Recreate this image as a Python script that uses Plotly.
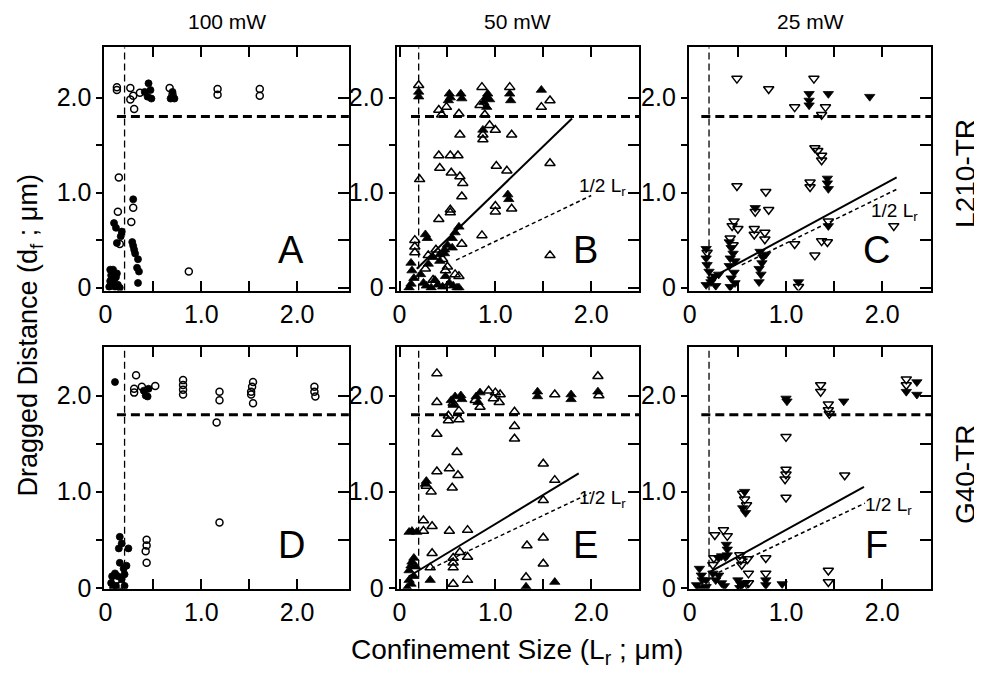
import plotly.graph_objects as go

# ---------------- data ----------------
col_titles = ["100 mW", "50 mW", "25 mW"]
row_labels = ["L210-TR", "G40-TR"]
panel_letters = ["A", "B", "C", "D", "E", "F"]
major_vals = [0, 1.0, 2.0]
major_text = ["0", "1.0", "2.0"]
minor_vals = [0.5, 1.5]
all_vals = [0, 0.5, 1.0, 1.5, 2.0]
stall_level = 1.8      # horizontal dashed line (d_f)
min_conf = 0.2         # vertical dashed line (L_r)

# Panel A (100 mW, L210-TR)
a_open_x = [0.12, 0.12, 0.26, 0.26, 0.30, 0.29, 0.36, 0.67, 0.70, 1.17, 1.17, 1.61, 1.61,
            0.14, 0.13, 0.29, 0.27, 0.15, 0.87]
a_open_y = [2.11, 2.08, 2.10, 1.98, 1.88, 2.02, 2.05, 2.10, 2.03, 2.09, 2.03, 2.09, 2.02,
            1.16, 0.80, 0.84, 0.69, 0.46, 0.17]
a_fill_x = [0.41, 0.45, 0.47, 0.48, 0.44, 0.68, 0.70, 0.72, 0.29, 0.09, 0.11, 0.17, 0.16, 0.12,
            0.28, 0.29, 0.30, 0.31, 0.34, 0.33, 0.35, 0.34, 0.05, 0.08, 0.06, 0.11, 0.05, 0.07,
            0.13, 0.10, 0.15, 0.04, 0.09, 0.12]
a_fill_y = [2.06, 2.15, 2.08, 1.99, 2.01, 1.99, 2.06, 1.99, 0.93, 0.68, 0.63, 0.59, 0.54, 0.47,
            0.48, 0.44, 0.40, 0.36, 0.30, 0.21, 0.17, 0.05, 0.19, 0.19, 0.13, 0.11, 0.07, 0.04,
            0.03, 0.01, 0.00, 0.01, 0.09, 0.15]

# Panel B (50 mW, L210-TR)
b_open_x = [0.20, 0.41, 0.44, 0.49, 0.62, 0.86, 0.84, 0.89, 0.94, 1.00, 1.15, 1.48, 1.57, 0.87,
            0.87, 0.63, 1.17, 0.41, 0.53, 0.61, 0.42, 0.54, 0.63, 0.66, 0.21, 1.01, 1.12, 1.57,
            0.65, 0.53, 0.53, 1.00, 1.00, 1.17, 0.41, 0.86, 0.65, 1.57, 0.16, 0.16, 0.16,
            0.30, 0.38, 0.45, 0.50, 0.58, 0.62, 0.27, 0.35, 0.48]
b_open_y = [2.13, 1.87, 1.82, 1.90, 1.83, 2.11, 1.92, 1.82, 1.71, 1.66, 2.11, 1.90, 1.97, 1.61,
            1.56, 1.61, 1.61, 1.39, 1.39, 1.39, 1.26, 1.21, 1.17, 1.10, 1.14, 1.28, 1.23, 1.31,
            0.96, 0.82, 0.79, 0.86, 0.80, 0.83, 0.72, 0.55, 0.46, 0.34, 0.50, 0.43, 0.37,
            0.34, 0.40, 0.30, 0.22, 0.14, 0.12, 0.20, 0.08, 0.18]
b_fill_x = [0.20, 0.20, 0.52, 0.53, 0.51, 0.64, 0.65, 0.88, 0.90, 0.92, 0.94, 0.91, 1.15, 1.16,
            1.48, 0.87, 1.13, 1.14, 0.27, 0.29, 0.62, 0.58, 0.55, 0.50, 0.47, 0.42, 0.12, 0.13,
            0.15, 0.12, 0.10, 0.22, 0.25, 0.28, 0.33, 0.37, 0.40, 0.45, 0.48, 0.52, 0.56, 0.60,
            0.62, 0.30, 0.35, 0.42, 0.47, 0.55]
b_fill_y = [2.06, 2.01, 2.04, 2.00, 1.97, 2.04, 1.99, 1.95, 2.00, 2.04, 1.98, 1.90, 2.04, 1.97,
            2.08, 1.66, 0.98, 0.93, 0.56, 0.52, 0.64, 0.58, 0.52, 0.45, 0.40, 0.35, 0.26, 0.18,
            0.10, 0.04, 0.00, 0.14, 0.05, 0.02, 0.00, 0.08, 0.03, 0.01, 0.12, 0.05, 0.02, 0.00,
            0.00, 0.25, 0.32, 0.28, 0.36, 0.42]

# Panel C (25 mW, L210-TR)
c_open_x = [0.49, 0.82, 1.09, 1.29, 1.41, 1.37, 1.30, 1.33, 1.37, 1.37, 1.25, 1.25, 0.49, 0.79,
            0.68, 0.82, 0.67, 0.67, 0.78, 0.78, 0.46, 0.44, 0.50, 0.18, 1.09, 1.30, 1.37, 1.43,
            1.44, 1.13, 2.12, 0.42, 0.45]
c_open_y = [2.20, 2.09, 1.90, 2.20, 1.90, 1.82, 1.47, 1.44, 1.39, 1.34, 1.11, 1.06, 1.07, 1.01,
            0.80, 0.82, 0.62, 0.56, 0.58, 0.51, 0.70, 0.65, 0.62, 0.37, 0.46, 0.34, 0.49, 0.48,
            0.70, 0.01, 0.65, 0.52, 0.45]
c_fill_x = [1.24, 1.24, 1.24, 1.44, 1.87, 1.43, 1.43, 1.44, 0.68, 1.44, 1.13, 0.41, 0.43, 0.45,
            0.42, 0.47, 0.41, 0.46, 0.43, 0.47, 0.42, 0.73, 0.76, 0.75, 0.72, 0.74, 0.72, 0.79,
            0.17, 0.17, 0.18, 0.20, 0.23, 0.17, 0.26, 0.27, 0.22, 0.30]
c_fill_y = [2.04, 1.97, 1.92, 2.04, 2.01, 1.15, 1.10, 1.04, 0.84, 0.65, 0.06, 0.48, 0.42, 0.36,
            0.31, 0.28, 0.23, 0.16, 0.10, 0.05, 0.01, 0.38, 0.32, 0.26, 0.20, 0.14, 0.06, 0.35,
            0.41, 0.31, 0.24, 0.17, 0.09, 0.03, 0.12, 0.02, 0.06, 0.14]

# Panel D (100 mW, G40-TR)
d_open_x = [0.32, 0.30, 0.30, 0.38, 0.52, 0.81, 0.81, 0.81, 0.81, 1.19, 1.19, 1.16, 1.54, 1.53,
            1.52, 1.52, 1.54, 2.18, 2.18, 2.19, 1.19, 0.43, 0.43, 0.42, 0.43, 0.12, 0.16]
d_open_y = [2.21, 2.07, 2.03, 2.09, 2.10, 2.16, 2.11, 2.06, 2.01, 2.04, 1.95, 1.72, 2.14, 2.09,
            2.04, 2.01, 1.92, 2.09, 2.04, 1.99, 0.68, 0.50, 0.44, 0.38, 0.26, 0.08, 0.03]
d_fill_x = [0.10, 0.40, 0.42, 0.44, 0.45, 0.15, 0.17, 0.24, 0.14, 0.15, 0.22, 0.19, 0.10, 0.07,
            0.17, 0.06, 0.20, 0.11, 0.08, 0.13, 0.20]
d_fill_y = [2.14, 2.05, 2.00, 1.99, 2.07, 0.53, 0.46, 0.41, 0.41, 0.26, 0.23, 0.20, 0.15, 0.12,
            0.09, 0.05, 0.02, 0.02, 0.00, 0.12, 0.14]

# Panel E (50 mW, G40-TR)
e_open_x = [0.39, 0.39, 0.39, 0.28, 0.33, 0.39, 0.52, 0.61, 0.55, 0.60, 0.51, 0.51, 0.56, 0.62,
            0.62, 0.84, 0.93, 1.00, 1.05, 0.98, 1.04, 1.20, 1.20, 1.20, 1.62, 2.07, 1.50, 1.62,
            1.50, 1.50, 1.50, 1.33, 1.32, 0.56, 0.71, 0.34, 0.25, 0.25, 0.34, 0.52, 0.71, 0.56,
            0.56, 0.56, 0.63, 0.71, 0.32, 0.79, 2.08]
e_open_y = [2.23, 1.93, 1.60, 1.06, 1.00, 1.21, 1.24, 1.17, 1.04, 1.41, 1.74, 1.79, 1.92, 1.84,
            1.75, 1.88, 2.05, 2.03, 2.01, 1.97, 1.93, 1.83, 1.68, 1.55, 2.01, 2.20, 1.29, 1.12,
            0.91, 0.52, 0.25, 0.44, 0.11, 0.04, 0.08, 0.36, 0.70, 0.59, 0.64, 0.59, 0.60, 0.31,
            0.26, 0.21, 0.37, 0.32, 0.21, 1.95, 2.00]
e_fill_x = [0.28, 0.27, 0.54, 0.56, 0.58, 0.64, 0.65, 0.80, 0.84, 0.82, 1.44, 1.44, 1.79, 1.79,
            2.07, 1.32, 1.62, 0.32, 0.10, 0.13, 0.18, 0.10, 0.12, 0.13, 0.15, 0.17, 0.10, 0.12,
            0.15, 0.08]
e_fill_y = [1.11, 1.08, 1.95, 1.90, 1.99, 2.00, 1.96, 1.99, 2.03, 1.93, 2.04, 1.99, 2.01, 1.96,
            2.04, 0.01, 0.06, 0.08, 0.58, 0.59, 0.58, 0.18, 0.23, 0.27, 0.31, 0.22, 0.08, 0.04,
            0.12, 0.00]

# Panel F (25 mW, G40-TR)
f_open_x = [1.36, 1.36, 1.44, 1.44, 1.45, 2.25, 2.25, 1.00, 1.00, 1.00, 0.99, 1.00, 1.61, 0.55,
            0.57, 0.59, 0.26, 0.35, 0.39, 0.25, 0.24, 0.52, 0.53, 0.54, 0.60, 0.61, 0.79, 0.79,
            1.44, 1.44, 0.61, 0.56]
f_open_y = [2.11, 2.04, 1.91, 1.85, 1.81, 2.17, 2.11, 1.57, 1.23, 1.18, 1.13, 0.94, 1.17, 0.98,
            0.92, 0.86, 0.55, 0.60, 0.54, 0.31, 0.24, 0.34, 0.29, 0.24, 0.30, 0.15, 0.31, 0.15,
            0.18, 0.06, 0.05, 0.00]
f_fill_x = [1.60, 2.25, 2.36, 2.36, 1.00, 1.01, 0.57, 0.55, 0.58, 0.38, 0.39, 0.39, 0.30, 0.33,
            0.37, 0.10, 0.12, 0.13, 0.07, 0.17, 0.24, 0.27, 0.30, 0.33, 0.36, 0.17, 0.11, 0.50,
            0.53, 0.52, 0.58, 0.79, 0.79, 0.96]
f_fill_y = [1.94, 2.04, 2.14, 2.01, 1.97, 1.94, 1.00, 0.83, 0.78, 0.45, 0.40, 0.34, 0.31, 0.33,
            0.32, 0.20, 0.13, 0.08, 0.03, 0.01, 0.15, 0.08, 0.13, 0.05, 0.02, 0.08, 0.00, 0.08,
            0.04, 0.00, 0.05, 0.08, 0.03, 0.04]

# fit lines (solid) and 1/2 L_r lines (dashed): [x0, x1], [y0, y1]
fit_x = {"B": [0.18, 1.80], "C": [0.31, 2.15], "E": [0.10, 1.87], "F": [0.20, 1.81]}
fit_y = {"B": [0.20, 1.78], "C": [0.15, 1.16], "E": [0.12, 1.19], "F": [0.16, 1.05]}
half_x = {"B": [0.59, 2.00], "C": [0.54, 2.16], "E": [0.33, 2.00], "F": [0.30, 1.82]}
half_y = {"B": [0.29, 0.97], "C": [0.24, 1.04], "E": [0.20, 0.99], "F": [0.16, 0.88]}
half_label_x = {"B": 2.12, "C": 2.13, "E": 2.12, "F": 2.07}
half_label_y = {"B": 1.06, "C": 0.80, "E": 0.92, "F": 0.85}

# ---------------- figure ----------------
FONT = "Liberation Sans, Arial, Helvetica, sans-serif"
OFF = 8                      # page offset of the plot (default body margin)
W, H = 982 - OFF, 693 - OFF  # figure size so that the page is exactly filled


def px(x):   # page pixel column -> paper fraction
    return (x - OFF) / W


def py(y):   # page pixel row -> paper fraction
    return 1 - (y - OFF) / H


x_dom = [[px(99), px(345)], [px(393), px(637)], [px(687), px(931)]]
y_dom = [[py(296), py(48)], [py(600), py(354)]]
x_rng = [[-0.01, 2.54], [-0.03, 2.50], [-0.01, 2.51]]
y_rng = [[-0.03, 2.53], [-0.01, 2.50]]

panels = [
    ("A", a_open_x, a_open_y, a_fill_x, a_fill_y, "circle"),
    ("B", b_open_x, b_open_y, b_fill_x, b_fill_y, "triangle-up"),
    ("C", c_open_x, c_open_y, c_fill_x, c_fill_y, "triangle-down"),
    ("D", d_open_x, d_open_y, d_fill_x, d_fill_y, "circle"),
    ("E", e_open_x, e_open_y, e_fill_x, e_fill_y, "triangle-up"),
    ("F", f_open_x, f_open_y, f_fill_x, f_fill_y, "triangle-down"),
]

fig = go.Figure()
layout = dict(
    width=W, height=H, margin=dict(l=0, r=0, t=0, b=0),
    paper_bgcolor="white", plot_bgcolor="white", showlegend=False,
    font=dict(family=FONT, color="black"),
)
annotations = []


def note(**kw):
    base = dict(showarrow=False, xanchor="center", yanchor="middle")
    base.update(kw)
    annotations.append(base)


for i, (letter, ox, oy, fx, fy, sym) in enumerate(panels):
    r, c = divmod(i, 3)
    n = i + 1
    xa = "x" if n == 1 else f"x{n}"
    ya = "y" if n == 1 else f"y{n}"
    xkey = "xaxis" if n == 1 else f"xaxis{n}"
    ykey = "yaxis" if n == 1 else f"yaxis{n}"
    rk = f"yaxis{n + 6}"
    size = 7 if sym == "circle" else 9

    layout[xkey] = dict(domain=x_dom[c], range=x_rng[c], anchor=ya,
                        showgrid=False, zeroline=False, showline=True, linewidth=2,
                        linecolor="black", mirror="ticks", ticks="inside", ticklen=10,
                        tickwidth=2, tickcolor="black", tickvals=major_vals, ticktext=major_text,
                        minor=dict(tickvals=minor_vals, ticks="inside", ticklen=10,
                                   tickwidth=2, tickcolor="black", showgrid=False),
                        tickfont=dict(size=25, family=FONT, color="black"))
    layout[ykey] = dict(domain=y_dom[r], range=y_rng[r], anchor=xa,
                        showgrid=False, zeroline=False, showline=True, linewidth=2,
                        linecolor="black", mirror=True, ticks="outside", ticklen=6,
                        tickwidth=2, tickcolor="black", tickvals=major_vals, ticktext=major_text,
                        minor=dict(tickvals=minor_vals, ticks="outside", ticklen=6,
                                   tickwidth=2, tickcolor="black", showgrid=False),
                        tickfont=dict(size=25, family=FONT, color="black"))
    layout[rk] = dict(overlaying=ya, anchor=xa, side="right", range=y_rng[r],
                      showgrid=False, zeroline=False, showline=False, ticks="inside",
                      ticklen=11, tickwidth=2, tickcolor="black", tickvals=all_vals,
                      showticklabels=False)

    # reference lines
    fig.add_trace(go.Scatter(x=[min_conf, min_conf], y=y_rng[r], mode="lines",
                             line=dict(color="black", width=1.3, dash="7px,4px"),
                             xaxis=xa, yaxis=ya, hoverinfo="skip"))
    fig.add_trace(go.Scatter(x=[min_conf - 0.08, x_rng[c][1]], y=[stall_level, stall_level],
                             mode="lines", line=dict(color="black", width=3, dash="9px,5px"),
                             xaxis=xa, yaxis=ya, hoverinfo="skip"))
    if letter in fit_x:
        fig.add_trace(go.Scatter(x=fit_x[letter], y=fit_y[letter], mode="lines",
                                 line=dict(color="black", width=2), xaxis=xa, yaxis=ya))
        fig.add_trace(go.Scatter(x=half_x[letter], y=half_y[letter], mode="lines",
                                 line=dict(color="black", width=1.5, dash="4px,3px"),
                                 xaxis=xa, yaxis=ya))
        note(x=half_label_x[letter], y=half_label_y[letter], xref=xa, yref=ya,
             text="1/2 L<sub>r</sub>", font=dict(size=19, family=FONT, color="black"))
    # data points
    fig.add_trace(go.Scatter(x=ox, y=oy, mode="markers", xaxis=xa, yaxis=ya,
                             marker=dict(symbol=sym + "-open", size=size, color="black",
                                         line=dict(width=1.5, color="black"))))
    fig.add_trace(go.Scatter(x=fx, y=fy, mode="markers", xaxis=xa, yaxis=ya,
                             marker=dict(symbol=sym, size=size, color="black",
                                         line=dict(width=0.8, color="black"))))
    # right-axis anchor trace (empty)
    fig.add_trace(go.Scatter(x=[], y=[], xaxis=xa, yaxis=f"y{n + 6}", mode="markers"))

    # panel letter
    note(x=1.94, y=0.40 if r == 0 else 0.44, xref=xa, yref=ya, text=letter,
         font=dict(size=38, family=FONT, color="black"))

for c, t in enumerate(col_titles):
    note(x=sum(x_dom[c]) / 2, y=py(22), xref="paper", yref="paper", text=t,
         font=dict(size=21, family=FONT, color="black"))
for r, t in enumerate(row_labels):
    note(x=px(966), y=py(177) if r == 0 else py(483), xref="paper", yref="paper",
         text=t, textangle=-90, font=dict(size=28, family=FONT, color="black"))
note(x=px(514), y=py(664), xref="paper", yref="paper",
     text="Confinement Size (L<sub>r</sub> ; μm)", font=dict(size=28, family=FONT, color="black"))
note(x=px(24), y=py(342), xref="paper", yref="paper",
     text="Dragged Distance (d<sub>f</sub> ; μm)", textangle=-90,
     font=dict(size=27, family=FONT, color="black"))

layout["annotations"] = annotations
fig.update_layout(**layout)
fig.write_html("out.html")
